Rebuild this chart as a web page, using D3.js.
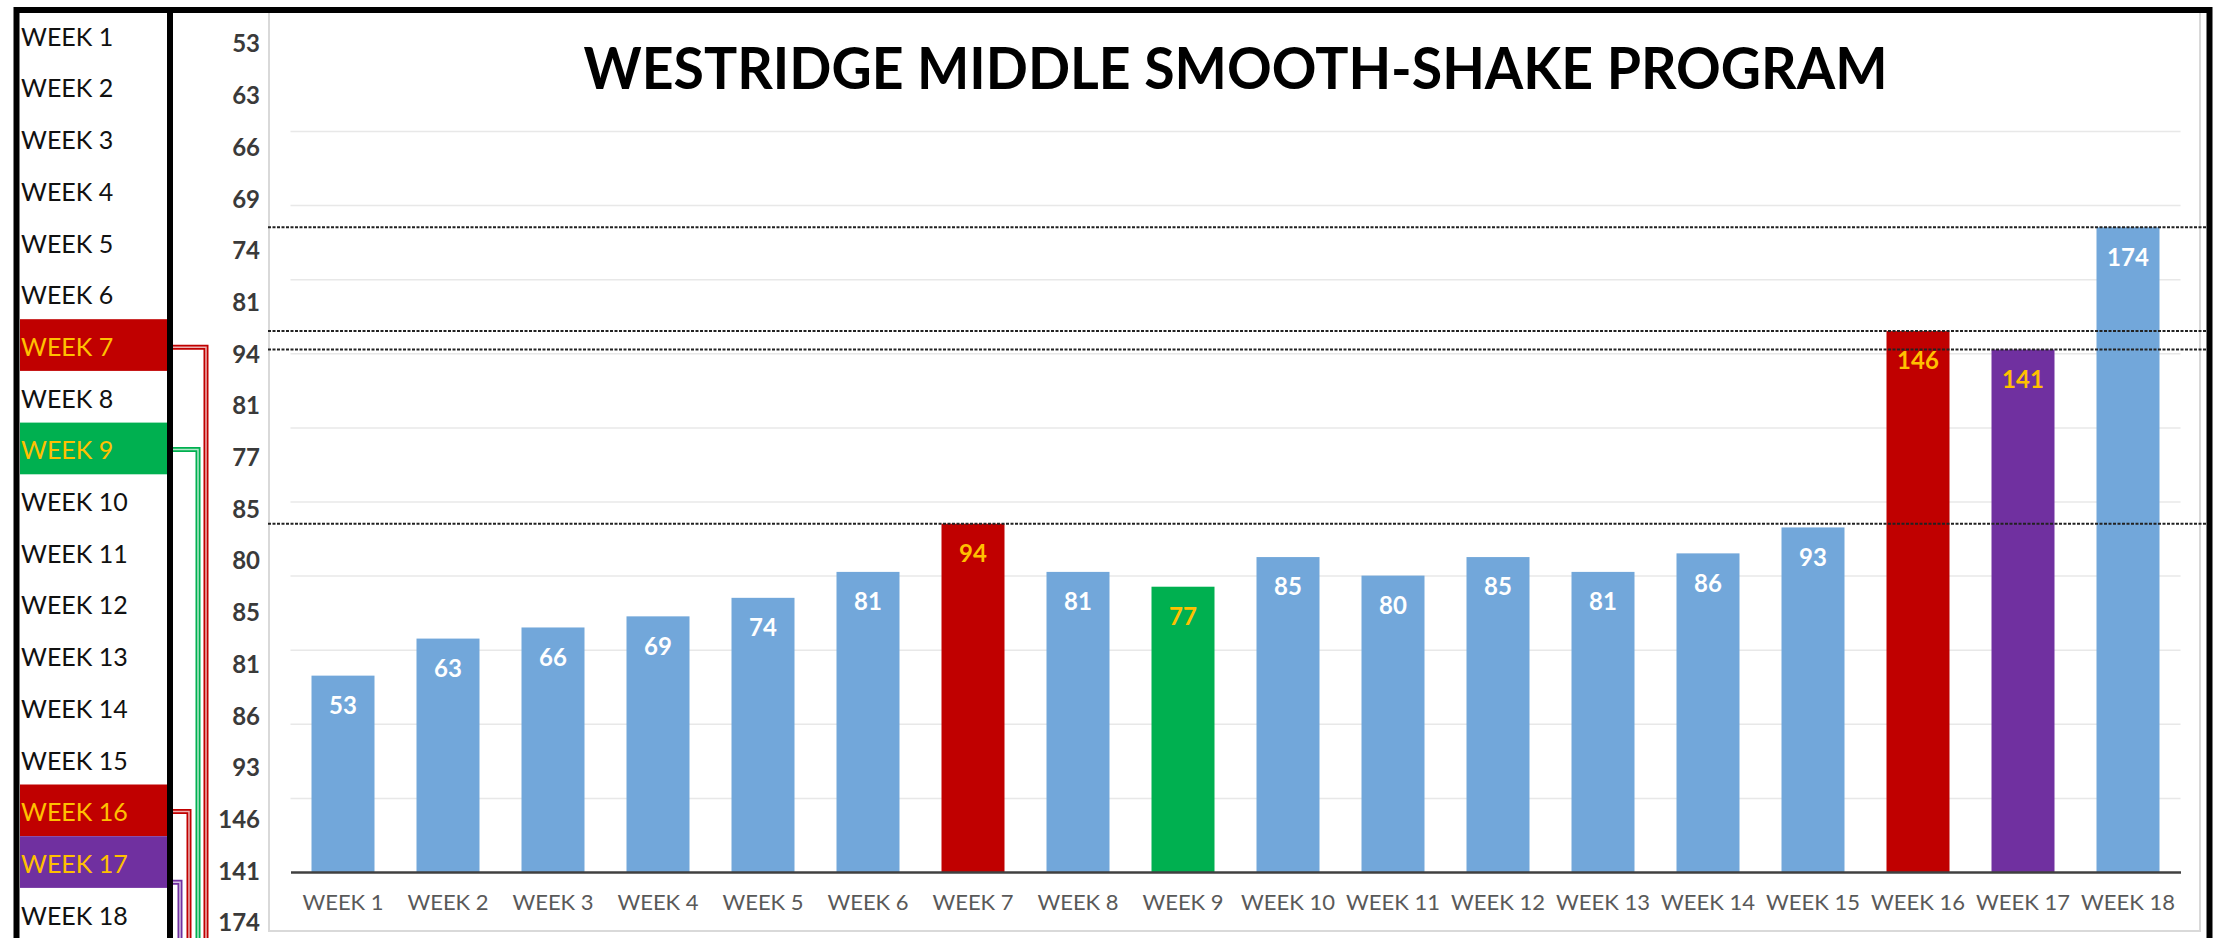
<!DOCTYPE html>
<html>
<head>
<meta charset="utf-8">
<script src="https://cdn.jsdelivr.net/npm/d3@7/dist/d3.min.js"></script>
<style>
  body { margin: 0; background: #fff; }
  svg { display: block; font-family: Lato, "Open Sans", sans-serif; }
</style>
</head>
<body>
<main></main>
<script>
// chart data
const weeks = ["WEEK 1","WEEK 2","WEEK 3","WEEK 4","WEEK 5","WEEK 6","WEEK 7","WEEK 8","WEEK 9",
  "WEEK 10","WEEK 11","WEEK 12","WEEK 13","WEEK 14","WEEK 15","WEEK 16","WEEK 17","WEEK 18"];
const shakes = [53,63,66,69,74,81,94,81,77,85,80,85,81,86,93,146,141,174];
const highlightWeeks = ["WEEK 7","WEEK 9","WEEK 16","WEEK 17"];
const highlightColors = ["#C00000","#00B050","#C00000","#7030A0"];
const markerLevels = [94,146,141,174];
const gridTicks = [20,40,60,80,100,120,140,160,180,200];
const title = "WESTRIDGE MIDDLE SMOOTH-SHAKE PROGRAM";

const svgSize = { width: 2216, height: 938 };
const plot = { left: 290.5, right: 2180.5, top: 131, bottom: 872 };
const barBlue = "#72A7DA";
const gold = "#FFC000";
// elbow lines from table rows (x of the vertical run, drop inside the row)
const connectorStyle = [{ x: 206, dy: 28 }, { x: 198, dy: 27 }, { x: 189, dy: 27 }, { x: 180, dy: 46 }];

const colorOf = (w) => {
  const i = highlightWeeks.indexOf(w);
  return i < 0 ? barBlue : highlightColors[i];
};

const svg = d3.select("main")
  .append("svg")
  .attr("width", svgSize.width)
  .attr("height", svgSize.height);

// scales
const xScale = d3.scaleBand()
  .domain(weeks)
  .range([plot.left, plot.right])
  .paddingInner(0.4)
  .paddingOuter(0.2);

const yScale = d3.scaleLinear()
  .domain([0, 200])
  .range([plot.bottom, plot.top]);

const rowScale = d3.scaleBand()
  .domain(weeks)
  .range([9, 9 + 51.7 * weeks.length]);

// chart box
svg.append("rect")
  .attr("x", 269).attr("y", 12)
  .attr("width", 1931).attr("height", 919)
  .attr("fill", "#fff")
  .attr("stroke", "#d9d9d9")
  .attr("stroke-width", 2);

// gridlines
svg.append("g")
  .attr("transform", `translate(${plot.left},0)`)
  .call(d3.axisLeft(yScale).tickValues(gridTicks).tickSize(-(plot.right - plot.left)).tickFormat(""))
  .call(g => g.select(".domain").remove())
  .call(g => g.selectAll(".tick line").attr("stroke", "#e8e8e8").attr("stroke-width", 1.5));

// title
svg.append("text")
  .attr("x", (plot.left + plot.right) / 2)
  .attr("y", 89)
  .attr("text-anchor", "middle")
  .attr("font-size", 58)
  .attr("font-weight", "bold")
  .attr("fill", "#000")
  .attr("textLength", 1304)
  .attr("lengthAdjust", "spacingAndGlyphs")
  .text(title);

// bars
svg.selectAll("rect.bar")
  .data(shakes)
  .enter()
  .append("rect")
  .attr("class", "bar")
  .attr("x", (d, i) => xScale(weeks[i]))
  .attr("y", (d) => yScale(d))
  .attr("width", xScale.bandwidth())
  .attr("height", (d) => yScale(0) - yScale(d))
  .attr("fill", (d, i) => colorOf(weeks[i]));

// x axis
svg.append("g")
  .attr("transform", `translate(0,${plot.bottom})`)
  .call(d3.axisBottom(xScale).tickSize(0).tickPadding(22).tickSizeOuter(0))
  .call(g => g.select(".domain").attr("stroke", "#404040").attr("stroke-width", 2.5))
  .call(g => g.selectAll("text")
    .attr("font-size", 22)
    .attr("font-family", "Lato, sans-serif")
    .attr("fill", "#595959"));

// dotted marker lines
svg.selectAll("line.marker")
  .data(markerLevels)
  .enter()
  .append("line")
  .attr("class", "marker")
  .attr("x1", 268).attr("x2", 2207)
  .attr("y1", (d) => yScale(d)).attr("y2", (d) => yScale(d))
  .attr("stroke", "#222")
  .attr("stroke-width", 2)
  .attr("stroke-dasharray", "3,1.5");

// bar value labels
svg.selectAll("text.value")
  .data(shakes)
  .enter()
  .append("text")
  .attr("class", "value")
  .attr("x", (d, i) => xScale(weeks[i]) + xScale.bandwidth() / 2)
  .attr("y", (d) => yScale(d) + 30)
  .attr("dy", "0.35em")
  .attr("text-anchor", "middle")
  .attr("font-size", 24)
  .attr("font-weight", "bold")
  .attr("fill", (d, i) => highlightWeeks.includes(weeks[i]) ? gold : "#fff")
  .text((d) => d);

// left table: highlighted rows
svg.selectAll("rect.row")
  .data(highlightWeeks)
  .enter()
  .append("rect")
  .attr("class", "row")
  .attr("x", 20).attr("width", 147)
  .attr("y", (d) => rowScale(d))
  .attr("height", rowScale.bandwidth())
  .attr("fill", (d, i) => highlightColors[i]);

svg.selectAll("text.week")
  .data(weeks)
  .enter()
  .append("text")
  .attr("class", "week")
  .attr("x", 21)
  .attr("y", (d) => rowScale(d) + 28)
  .attr("dy", "0.35em")
  .attr("font-size", 25)
  .attr("fill", (d) => highlightWeeks.includes(d) ? gold : "#111")
  .text((d) => d);

// middle column of values
svg.selectAll("text.col")
  .data(shakes)
  .enter()
  .append("text")
  .attr("class", "col")
  .attr("x", 260)
  .attr("y", (d, i) => rowScale(weeks[i]) + 35)
  .attr("dy", "0.35em")
  .attr("text-anchor", "end")
  .attr("font-size", 24)
  .attr("font-weight", "bold")
  .attr("fill", "#3a3a3a")
  .text((d) => d);

// connectors from highlighted rows
const connector = (w, i) => {
  const c = connectorStyle[i];
  const y = rowScale(w) + c.dy;
  return `M173,${y}H${c.x}V${svgSize.height + 5}`;
};
highlightWeeks.forEach((w, i) => {
  svg.append("path").attr("d", connector(w, i))
    .attr("fill", "none").attr("stroke", highlightColors[i]).attr("stroke-width", 5);
  svg.append("path").attr("d", connector(w, i))
    .attr("fill", "none").attr("stroke", "#fff").attr("stroke-width", 1.5).attr("opacity", 0.7);
});

// black frame
svg.append("path")
  .attr("d", `M16.5,${svgSize.height + 5}V10H2209.5V${svgSize.height + 5}`)
  .attr("fill", "none").attr("stroke", "#000").attr("stroke-width", 6);
svg.append("line")
  .attr("x1", 170).attr("x2", 170)
  .attr("y1", 10).attr("y2", svgSize.height + 5)
  .attr("stroke", "#000").attr("stroke-width", 6);
</script>
</body>
</html>
